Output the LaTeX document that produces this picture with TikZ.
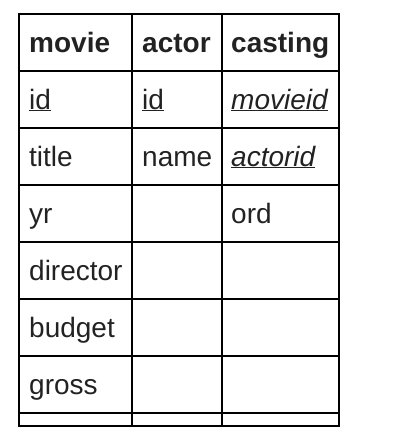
\documentclass[tikz,border=0pt]{standalone}
\usepackage{fontspec}
\setmainfont{Liberation Sans}
\usetikzlibrary{positioning}
\definecolor{ink}{HTML}{222222}
\newcommand{\keyfield}[1]{\underline{#1}}
\begin{document}
\begin{tikzpicture}[
    x=1pt, y=-1pt,
    cell/.style={anchor=base west, inner sep=0pt, text=ink, font=\fontsize{28}{34}\selectfont},
    head/.style={cell, font=\fontsize{28}{34}\selectfont\bfseries},
    rule/.style={line width=2pt, black},
  ]
  \useasboundingbox (0,0) rectangle (406,440);
  % grid of the table
  \draw[rule] (19,14) rectangle (339,426);
  \foreach \x in {132,222}
    \draw[rule] (\x,14) -- (\x,426);
  \foreach \y in {71,128,185,242,299,356,413}
    \draw[rule] (19,\y) -- (339,\y);
  % header row
  \node[head] (movie) at (29,52) {movie};
  \node[head] (actor) at (142,52) {actor};
  \node[head] (casting) at (231,52) {casting};
  % movie
  \node[cell] (movie-id) at (29,109) {\keyfield{id}};
  \node[cell] (movie-title) at (29,166) {title};
  \node[cell] (movie-yr) at (29,223) {yr};
  \node[cell] (movie-director) at (29,280) {director};
  \node[cell] (movie-budget) at (29,337) {budget};
  \node[cell] (movie-gross) at (29,394) {gross};
  % actor
  \node[cell] (actor-id) at (142,109) {\keyfield{id}};
  \node[cell] (actor-name) at (142,166) {name};
  % casting
  \node[cell] (casting-movieid) at (231,109) {\keyfield{\itshape movieid}};
  \node[cell] (casting-actorid) at (231,166) {\keyfield{\itshape actorid}};
  \node[cell] (casting-ord) at (231,223) {ord};
\end{tikzpicture}
\end{document}
